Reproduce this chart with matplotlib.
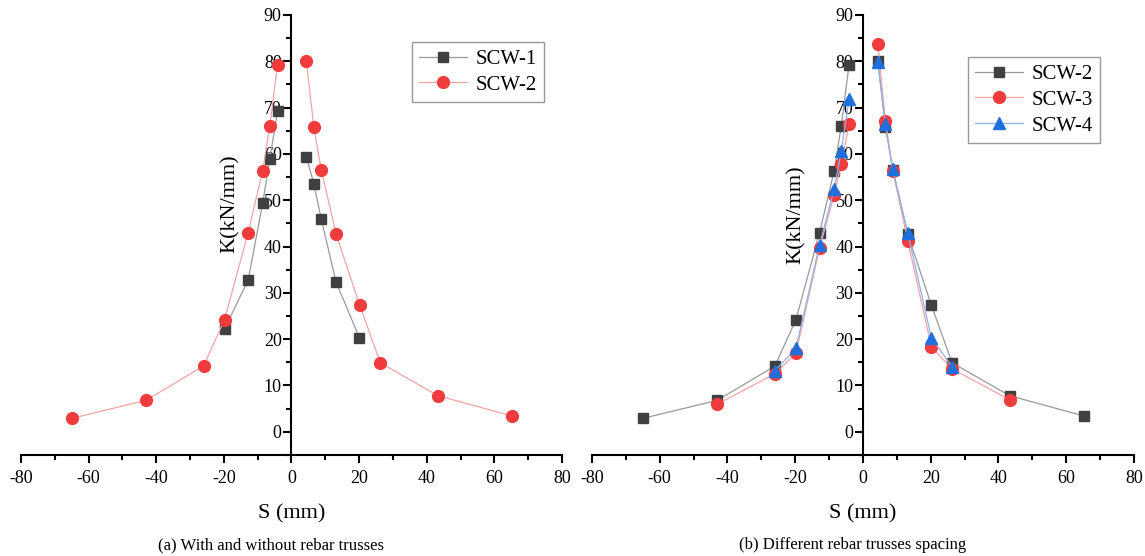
"""Recreate the stiffness degradation comparison figure (K versus S).

Two panels share one layout:
    (a) SCW-1 vs SCW-2, with and without rebar trusses
    (b) SCW-2, SCW-3, SCW-4, different rebar truss spacing

Each curve is drawn as two branches (negative and positive loading) so the
two directions are not joined across S = 0.
"""

from __future__ import annotations

import matplotlib

matplotlib.use("Agg")

import matplotlib.pyplot as plt
from matplotlib.ticker import MultipleLocator

plt.rcParams["font.family"] = ["Liberation Serif", "DejaVu Serif"]
plt.rcParams["axes.unicode_minus"] = False

# ---------------------------------------------------------------- data
# SCW-1 (no rebar trusses)
scw1_s_neg = [-19.8, -12.8, -8.5, -6.4, -4.1]
scw1_k_neg = [22.2, 32.8, 49.4, 59.0, 69.2]
scw1_s_pos = [4.4, 6.6, 8.8, 13.2, 20.1]
scw1_k_pos = [59.4, 53.6, 46.0, 32.3, 20.3]

# SCW-2 (used in both panels)
scw2_s_neg = [-65.0, -43.0, -26.0, -19.8, -12.8, -8.5, -6.4, -4.1]
scw2_k_neg = [2.9, 6.8, 14.2, 24.2, 43.0, 56.4, 66.1, 79.3]
scw2_s_pos = [4.4, 6.6, 8.8, 13.2, 20.2, 26.3, 43.3, 65.3]
scw2_k_pos = [80.0, 65.9, 56.6, 42.7, 27.3, 14.9, 7.8, 3.4]

# SCW-3
scw3_s_neg = [-43.0, -26.0, -19.8, -12.8, -8.5, -6.4, -4.1]
scw3_k_neg = [6.0, 12.5, 17.0, 39.7, 51.2, 57.9, 66.4]
scw3_s_pos = [4.4, 6.6, 8.8, 13.2, 20.2, 26.3, 43.3]
scw3_k_pos = [83.8, 67.1, 56.3, 41.3, 18.3, 13.6, 6.9]

# SCW-4
scw4_s_neg = [-26.0, -19.8, -12.8, -8.5, -6.4, -4.1]
scw4_k_neg = [13.2, 18.0, 40.4, 52.4, 60.7, 71.8]
scw4_s_pos = [4.4, 6.6, 8.8, 13.2, 20.2, 26.3]
scw4_k_pos = [79.8, 66.4, 56.7, 43.0, 20.2, 14.1]

x_ticks = [-80, -60, -40, -20, 0, 20, 40, 60, 80]
y_ticks = [0, 10, 20, 30, 40, 50, 60, 70, 80, 90]

captions = ["(a) With and without rebar trusses", "(b) Different rebar trusses spacing"]

# series styles: marker, marker colour, line colour, marker size
STYLES = {
    "SCW-1": ("s", "#404040", "#9a9a9a", 7.5),
    "SCW-2": ("o", "#f03c3c", "#f5a3a3", 8.5),
    "SCW-3": ("o", "#f03c3c", "#f5a3a3", 8.5),
    "SCW-4": ("^", "#1f6fdc", "#8fb2e6", 8.5),
}


def plot_series(ax, name, s_neg, k_neg, s_pos, k_pos, scw2_black=False):
    """Draw the negative and positive branch of one specimen."""
    marker, mcolor, lcolor, msize = STYLES[name]
    if scw2_black:
        marker, mcolor, lcolor, msize = STYLES["SCW-1"]
    for s_vals, k_vals, label in ((s_neg, k_neg, name), (s_pos, k_pos, None)):
        ax.plot(
            s_vals,
            k_vals,
            marker=marker,
            markersize=msize,
            markerfacecolor=mcolor,
            markeredgecolor=mcolor,
            color=lcolor,
            linewidth=0.9,
            label=label,
        )


def style_axes(ax, legend_anchor):
    """Origin-style axes: y spine at S = 0, outward ticks, serif text."""
    ax.set_xlim(-80, 80)
    ax.set_ylim(-5, 90)
    ax.spines["left"].set_position(("data", 0))
    ax.spines["right"].set_visible(False)
    ax.spines["top"].set_visible(False)
    for side in ("left", "bottom"):
        ax.spines[side].set_linewidth(1.5)

    ax.set_xticks(x_ticks)
    ax.set_yticks(y_ticks)
    ax.xaxis.set_minor_locator(MultipleLocator(10))
    ax.yaxis.set_minor_locator(MultipleLocator(5))
    ax.tick_params(which="major", direction="out", length=6, width=1.5,
                   labelsize=13, pad=5)
    ax.tick_params(which="minor", direction="out", length=3.5, width=1.5)
    ax.tick_params(axis="y", pad=1)

    ax.set_xlabel("S (mm)", fontsize=16, labelpad=12)
    ax.set_ylabel("K(kN/mm)", fontsize=16)

    legend = ax.legend(
        loc="upper left",
        bbox_to_anchor=legend_anchor,
        fontsize=15,
        frameon=True,
        fancybox=False,
        edgecolor="#808080",
        handlelength=2.3,
        handletextpad=0.4,
        labelspacing=0.3,
        borderpad=0.35,
        borderaxespad=0,
    )
    legend.get_frame().set_linewidth(1.0)


fig = plt.figure(figsize=(11.45, 5.56), dpi=100)
ax_a = fig.add_axes([0.0183, 0.1817, 0.4725, 0.7914])
ax_b = fig.add_axes([0.5170, 0.1817, 0.4734, 0.7914])

# panel (a)
plot_series(ax_a, "SCW-1", scw1_s_neg, scw1_k_neg, scw1_s_pos, scw1_k_pos)
plot_series(ax_a, "SCW-2", scw2_s_neg, scw2_k_neg, scw2_s_pos, scw2_k_pos)
style_axes(ax_a, (0.7227, 0.9386))
ax_a.yaxis.set_label_coords(0.405, 0.57)

# panel (b)
plot_series(ax_b, "SCW-2", scw2_s_neg, scw2_k_neg, scw2_s_pos, scw2_k_pos,
            scw2_black=True)
plot_series(ax_b, "SCW-3", scw3_s_neg, scw3_k_neg, scw3_s_pos, scw3_k_pos)
plot_series(ax_b, "SCW-4", scw4_s_neg, scw4_k_neg, scw4_s_pos, scw4_k_pos)
style_axes(ax_b, (0.6937, 0.9045))
ax_b.yaxis.set_label_coords(0.395, 0.545)

fig.text(271 / 1145, 1 - 545 / 556, captions[0], ha="center", va="center",
         fontsize=12)
fig.text(853 / 1145, 1 - 545 / 556, captions[1], ha="center", va="center",
         fontsize=12)

fig.savefig("out.png", dpi=100)
plt.close(fig)
